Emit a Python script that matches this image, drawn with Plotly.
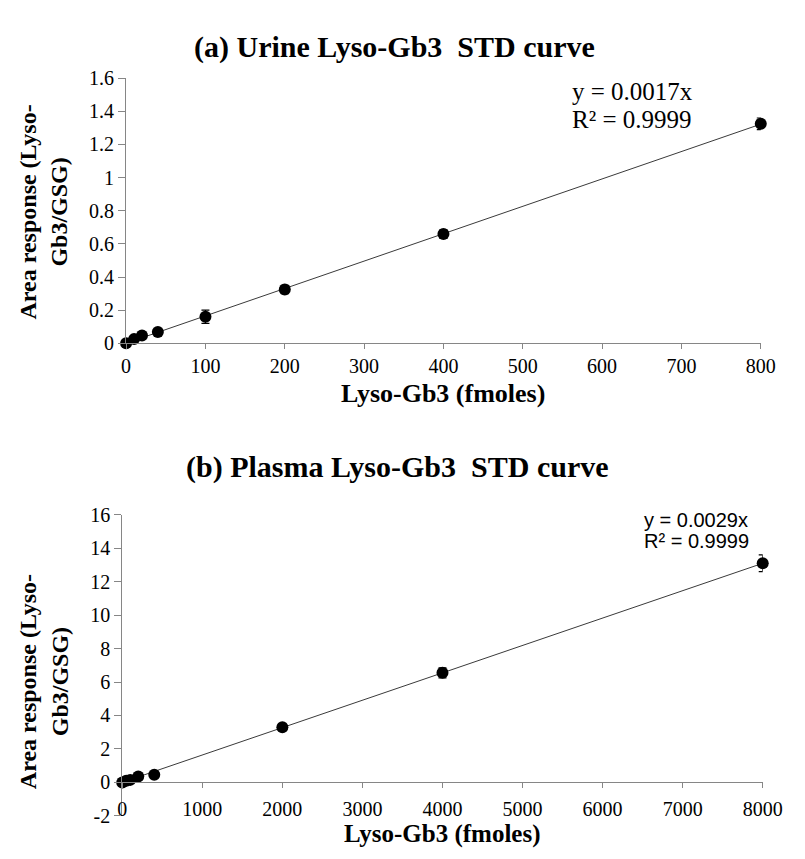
import numpy as np
import plotly.graph_objects as go

# ---- data ----
urine_x = [0, 10, 20, 40, 100, 200, 400, 800]
urine_y = [0.0, 0.025, 0.047, 0.068, 0.16, 0.325, 0.66, 1.325]
urine_err = [0.006, 0.01, 0.01, 0.015, 0.04, 0.025, 0.025, 0.035]

plasma_x = [0, 50, 100, 200, 400, 2000, 4000, 8000]
plasma_y = [0.0, 0.1, 0.15, 0.35, 0.45, 3.3, 6.55, 13.1]
plasma_err = [0.05, 0.05, 0.05, 0.08, 0.08, 0.15, 0.3, 0.5]

urine_ticks_x = list(range(0, 801, 100))
urine_ticks_y = [0, 0.2, 0.4, 0.6, 0.8, 1, 1.2, 1.4, 1.6]
plasma_ticks_x = list(range(0, 8001, 1000))
plasma_ticks_y = list(range(-2, 17, 2))

W, H = 805, 859
SERIF = "Liberation Serif"
SANS = "Liberation Sans"
AXIS_GREY = "#868686"


def fx(p):
    return p / W


def fy(p):
    return 1 - p / H


def fit_through_origin(x, y):
    x = np.asarray(x, float)
    y = np.asarray(y, float)
    return float((x * y).sum() / (x * x).sum())


def labels(vals):
    return [f"{v:g}" for v in vals]


fig = go.Figure()

panels = [
    (urine_x, urine_y, urine_err, "x", "y"),
    (plasma_x, plasma_y, plasma_err, "x2", "y2"),
]
for xs, ys, es, xa, ya in panels:
    k = fit_through_origin(xs, ys)
    xl = np.array([0, max(xs)], float)
    fig.add_trace(go.Scatter(
        x=xl, y=k * xl, mode="lines", xaxis=xa, yaxis=ya,
        line=dict(color="#3a3a3a", width=1), hoverinfo="skip",
        showlegend=False))
    fig.add_trace(go.Scatter(
        x=xs, y=ys, mode="markers", xaxis=xa, yaxis=ya,
        marker=dict(color="black", size=12),
        error_y=dict(type="data", array=es, color="black",
                     thickness=1.2, width=4),
        cliponaxis=False, showlegend=False))

tickfont = dict(family=SERIF, size=20, color="black")
axis_common = dict(showgrid=False, zeroline=False, showline=True,
                   linecolor=AXIS_GREY, linewidth=1, ticks="outside",
                   tickcolor=AXIS_GREY, tickwidth=1, tickfont=tickfont)

top_dom_x = [fx(125), fx(780)]
top_dom_y = [fy(341), fy(69)]
bot_dom_x = [fx(121), fx(782)]
bot_dom_y = [fy(826), fy(517)]

y2_range = [-2, 16]
# horizontal axis of the lower panel crosses the vertical axis at y = 0
x2_pos = bot_dom_y[0] + (0 - y2_range[0]) / (y2_range[1] - y2_range[0]) * (bot_dom_y[1] - bot_dom_y[0])

fig.update_layout(
    width=W, height=H,
    margin=dict(l=0, r=0, t=0, b=0),
    paper_bgcolor="white", plot_bgcolor="white",
    xaxis=dict(domain=top_dom_x, range=[0, 800], tickvals=urine_ticks_x,
               ticktext=labels(urine_ticks_x), ticklen=5, anchor="y",
               **axis_common),
    yaxis=dict(domain=top_dom_y, range=[0, 1.6], tickvals=urine_ticks_y,
               ticktext=labels(urine_ticks_y), ticklen=7, anchor="x",
               **axis_common),
    xaxis2=dict(domain=bot_dom_x, range=[0, 8000], tickvals=plasma_ticks_x,
                ticktext=labels(plasma_ticks_x), ticklen=5, anchor="free",
                position=x2_pos, ticklabelstandoff=4, **axis_common),
    yaxis2=dict(domain=bot_dom_y, range=y2_range, tickvals=plasma_ticks_y,
                ticktext=labels(plasma_ticks_y), ticklen=7, anchor="x2",
                **axis_common),
)


def note(text, x, y, size, family=SERIF, xanchor="center", yanchor="middle",
         angle=0, align="center"):
    fig.add_annotation(text=text, x=fx(x), y=fy(y), xref="paper", yref="paper",
                       xanchor=xanchor, yanchor=yanchor, showarrow=False,
                       textangle=angle, align=align,
                       font=dict(family=family, size=size, color="black"))


note("<b>(a) Urine Lyso-Gb3  STD curve</b>", 402, 37, 30)
note("<b>(b) Plasma Lyso-Gb3  STD curve</b>", 405, 468, 30)
note("<b>Lyso-Gb3 (fmoles)</b>", 452, 393, 26)
note("<b>Lyso-Gb3 (fmoles)</b>", 452, 845, 25)
note("<b>Area response (Lyso-<br>Gb3/GSG)</b>", 40, 206, 24, angle=-90)
note("<b>Area response (Lyso-<br>Gb3/GSG)</b>", 40, 688, 24, angle=-90)

note("y = 0.0017x", 583, 83, 25, xanchor="left")
note("R² = 0.9999", 583, 111, 25, xanchor="left")
note("y = 0.0029x", 657, 522, 20, family=SANS, xanchor="left")
note("R² = 0.9999", 657, 544, 20, family=SANS, xanchor="left")

fig.write_html("out.html")
